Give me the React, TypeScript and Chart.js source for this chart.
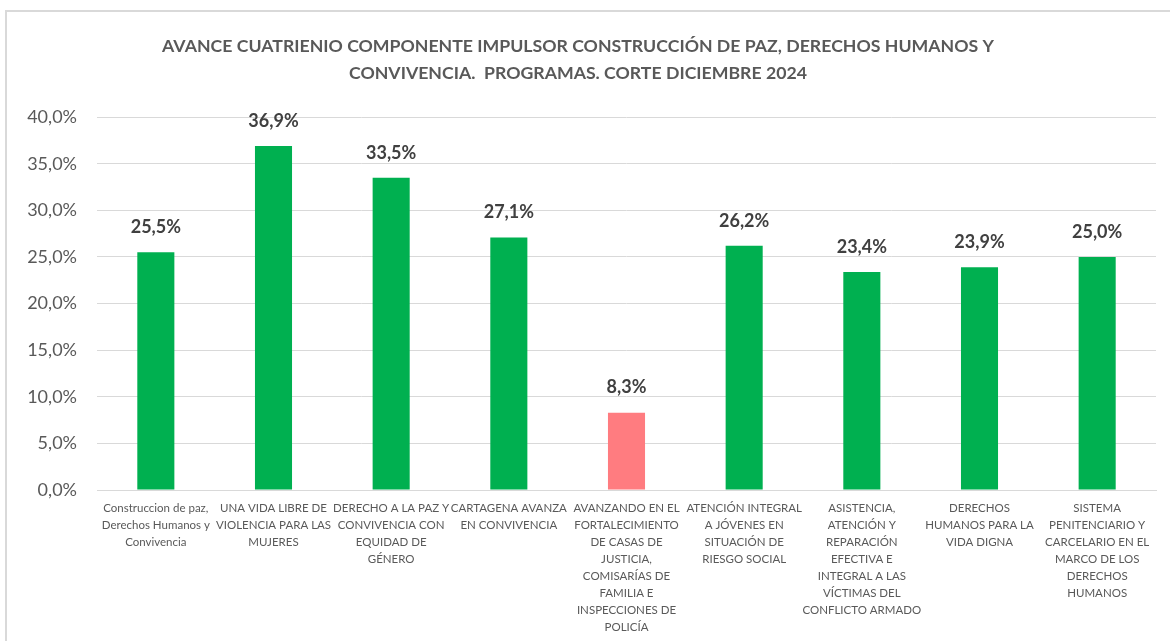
import React, { useEffect, useRef } from "react";
import { Chart, registerables } from "chart.js";

Chart.register(...registerables);

const TITLE_LINES = [
  "AVANCE CUATRIENIO COMPONENTE IMPULSOR CONSTRUCCIÓN DE PAZ, DERECHOS HUMANOS Y",
  "CONVIVENCIA.  PROGRAMAS. CORTE DICIEMBRE 2024",
];

const CATEGORIES: string[][] = [
  ["Construccion de paz,", "Derechos Humanos y", "Convivencia"],
  ["UNA VIDA LIBRE DE", "VIOLENCIA PARA LAS", "MUJERES"],
  ["DERECHO A LA PAZ Y", "CONVIVENCIA CON", "EQUIDAD DE", "GÉNERO"],
  ["CARTAGENA AVANZA", "EN CONVIVENCIA"],
  ["AVANZANDO EN EL", "FORTALECIMIENTO", "DE CASAS DE", "JUSTICIA,", "COMISARÍAS DE", "FAMILIA E", "INSPECCIONES DE", "POLICÍA"],
  ["ATENCIÓN INTEGRAL", "A JÓVENES EN", "SITUACIÓN DE", "RIESGO SOCIAL"],
  ["ASISTENCIA,", "ATENCIÓN Y", "REPARACIÓN", "EFECTIVA E", "INTEGRAL A LAS", "VÍCTIMAS DEL", "CONFLICTO ARMADO"],
  ["DERECHOS", "HUMANOS PARA LA", "VIDA DIGNA"],
  ["SISTEMA", "PENITENCIARIO Y", "CARCELARIO EN EL", "MARCO DE LOS", "DERECHOS", "HUMANOS"],
];

const VALUES: number[] = [25.5, 36.9, 33.5, 27.1, 8.3, 26.2, 23.4, 23.9, 25.0];

const BAR_COLORS: string[] = [
  "#00B050", "#00B050", "#00B050", "#00B050", "#FF7C80",
  "#00B050", "#00B050", "#00B050", "#00B050",
];

const Y_MIN = 0;
const Y_MAX = 40;
const Y_STEP = 5;

const FONT = "Lato, 'Open Sans', sans-serif";

const fmt = (v: number) => v.toFixed(1).replace(".", ",") + "%";

const valueLabels = {
  id: "valueLabels",
  afterDatasetsDraw(chart: any) {
    const ctx = chart.ctx;
    const meta = chart.getDatasetMeta(0);
    ctx.save();
    ctx.font = `bold 18px ${FONT}`;
    ctx.fillStyle = "#404040";
    ctx.textAlign = "center";
    ctx.textBaseline = "middle";
    meta.data.forEach((bar: any, i: number) => {
      ctx.fillText(fmt(VALUES[i]), bar.x, bar.y - 25);
    });
    ctx.restore();
  },
};

export default function App() {
  const ref = useRef<HTMLCanvasElement | null>(null);

  useEffect(() => {
    document.body.style.margin = "0";
    if (!ref.current) return;
    const chart = new Chart(ref.current, {
      type: "bar",
      data: {
        labels: CATEGORIES,
        datasets: [
          {
            data: VALUES,
            backgroundColor: BAR_COLORS,
            borderWidth: 0,
            barPercentage: 0.315,
            categoryPercentage: 1,
          },
        ],
      },
      options: {
        animation: false,
        responsive: false,
        maintainAspectRatio: false,
        layout: { padding: { left: 0, right: 14, top: 0, bottom: 0 } },
        plugins: {
          legend: { display: false },
          tooltip: { enabled: false },
          title: {
            display: true,
            text: TITLE_LINES,
            color: "#595959",
            font: { family: FONT, size: 17.7, weight: "bold", lineHeight: 1.53 },
            padding: { top: 33, bottom: 30 },
          },
        },
        scales: {
          x: {
            grid: { display: false, drawTicks: false },
            border: { display: true, color: "#d9d9d9", width: 1 },
            ticks: {
              autoSkip: false,
              maxRotation: 0,
              minRotation: 0,
              padding: 10,
              color: "#595959",
              font: { family: FONT, size: 11.5, lineHeight: 1.48 },
            },
            afterFit: (scale: any) => {
              scale.height = 151;
            },
          },
          y: {
            min: Y_MIN,
            max: Y_MAX,
            grid: { color: "#d9d9d9", lineWidth: 1, drawTicks: false },
            border: { display: false },
            ticks: {
              stepSize: Y_STEP,
              padding: 20,
              color: "#595959",
              font: { family: FONT, size: 18 },
              callback: (v: any) => fmt(Number(v)),
            },
            afterFit: (scale: any) => {
              scale.width = 97;
            },
          },
        },
      },
      plugins: [valueLabels],
    });
    return () => chart.destroy();
  }, []);

  return (
    <div style={{ position: "relative", width: 1170, height: 641, overflow: "hidden", background: "#fff" }}>
      <div
        style={{
          position: "absolute",
          left: 5,
          top: 10,
          width: 1170,
          height: 640,
          borderLeft: "2px solid #d9d9d9",
          borderTop: "2px solid #d9d9d9",
          boxSizing: "border-box",
        }}
      />
      <canvas ref={ref} width={1170} height={641} style={{ position: "absolute", left: 0, top: 0, display: "block" }} />
    </div>
  );
}
